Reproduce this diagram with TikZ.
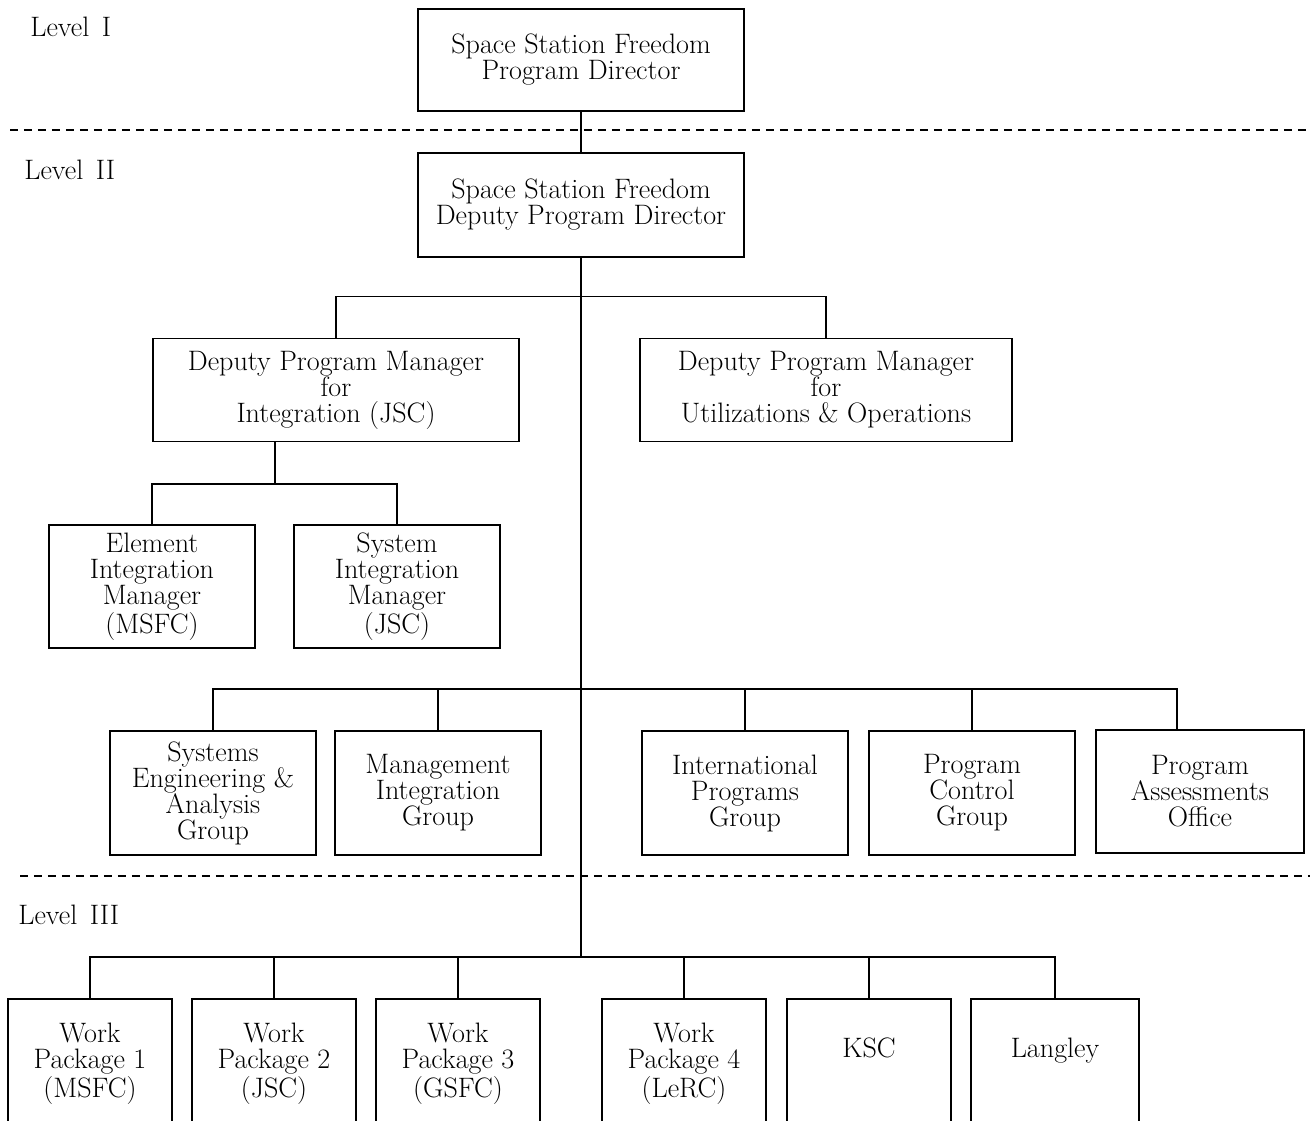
\documentclass[tikz,border=0pt]{standalone}
\usepackage{tikz}

\begin{document}
\begin{tikzpicture}[x=0.02cm, y=-0.02cm,
    font={\fontsize{16}{14.8}\selectfont},
    box/.style n args={2}{draw, line width=1pt, align=center, inner sep=0pt,
      minimum width=#1*0.02cm, minimum height=#2*0.02cm},
    onerow/.style={text height=1.6ex, text depth=0.5cm},
    link/.style={line width=0.9pt},
    levelline/.style={line width=0.9pt, dash pattern=on 0.16cm off 0.12cm},
    levellabel/.style={anchor=west, inner sep=0pt}]
      \clip (0, 0) rectangle (1310, 1120);
      \node[levellabel] (lvA) at (30, 27) {Level\hspace{0.45em}I};
      \node[levellabel] (lvB) at (24, 170) {Level\hspace{0.45em}II};
      \node[levellabel] (lvC) at (18, 915) {Level\hspace{0.45em}III};
      \draw[levelline] (10, 130) -- (1310, 130);
      \draw[levelline] (20, 876) -- (1310, 876);
      \node[box={326}{102}] (dir) at (581, 60) {Space Station Freedom\\Program Director};
      \node[box={326}{104}] (dep) at (581, 205) {Space Station Freedom\\Deputy Program Director};
      \node[box={366}{103}] (dpmi) at (336, 390) {Deputy Program Manager\\for\\Integration (JSC)};
      \node[box={372}{103}] (dpmu) at (826, 390) {Deputy Program Manager\\for\\Utilizations \& Operations};
      \node[box={206}{123}] (eim) at (152, 586.5) {Element\\Integration\\Manager\\(MSFC)};
      \node[box={206}{123}] (sim) at (397, 586.5) {System\\Integration\\Manager\\(JSC)};
      \node[box={206}{124}] (seag) at (213, 793) {Systems\\Engineering \&\\Analysis\\Group};
      \node[box={206}{124}] (mig) at (438, 793) {Management\\Integration\\Group};
      \node[box={206}{124}] (ipg) at (745, 793) {International\\Programs\\Group};
      \node[box={206}{124}] (pcg) at (972, 793) {Program\\Control\\Group};
      \node[box={208}{123}] (pao) at (1200, 791.5) {Program\\Assessments\\Office};
      \node[box={164}{130}] (wpa) at (90, 1064) {Work\\Package 1\\(MSFC)};
      \node[box={164}{130}] (wpb) at (274, 1064) {Work\\Package 2\\(JSC)};
      \node[box={164}{130}] (wpc) at (458, 1064) {Work\\Package 3\\(GSFC)};
      \node[box={164}{130}] (wpd) at (684, 1064) {Work\\Package 4\\(LeRC)};
      \node[box={164}{130}, onerow] (ksc) at (869, 1064) {KSC};
      \node[box={168}{130}, onerow] (lrc) at (1055, 1064) {Langley};
      \coordinate (dpmiout) at (275, 442);
      \coordinate (paoin) at (1177, 730);
      \coordinate (busC) at (581, 958);
      \draw[link] (dir) -- (dep);
      \draw[link] (dep.south) -- (busC);
      \draw[link] (dpmi.north) -- ++(0, -41) -| (dpmu.north);
      \draw[link] (dpmiout) -- ++(0, 43);
      \draw[link] (eim.north) -- ++(0, -40) -| (sim.north);
      \draw[link] (seag.north) -- ++(0, -41) -| (paoin);
      \draw[link] (mig.north) -- ++(0, -41);
      \draw[link] (ipg.north) -- ++(0, -41);
      \draw[link] (pcg.north) -- ++(0, -41);
      \draw[link] (wpa.north) -- ++(0, -41) -| (lrc.north);
      \draw[link] (wpb.north) -- ++(0, -41);
      \draw[link] (wpc.north) -- ++(0, -41);
      \draw[link] (wpd.north) -- ++(0, -41);
      \draw[link] (ksc.north) -- ++(0, -41);
\end{tikzpicture}
\end{document}
